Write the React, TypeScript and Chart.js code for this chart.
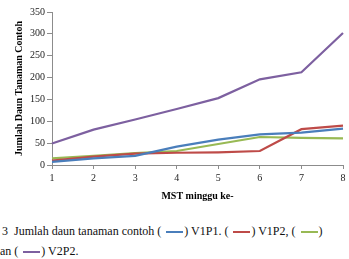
import { useEffect, useRef } from 'react';
import { Chart, registerables } from 'chart.js';

Chart.register(...registerables);

// Minggu setelah tanam (MST)
const weeks = ['1', '2', '3', '4', '5', '6', '7', '8'];

// Jumlah daun tanaman contoh per perlakuan
const v1p1 = [7, 15, 21, 42, 58, 70, 74, 83];
const v1p2 = [10, 19, 26, 28, 29, 32, 82, 90];
const v2p1 = [15, 21, 27, 32, 48, 64, 62, 61];
const v2p2 = [49, 81, 104, 128, 153, 196, 212, 302];

const BLUE = '#4a7ebb';
const RED = '#be4b48';
const GREEN = '#98b954';
const PURPLE = '#7d60a0';

const SERIF = '"Liberation Serif", "Times New Roman", serif';
const AXIS = '#8c8c8c';

function Swatch({ color }: { color: string }) {
  return (
    <span
      style={{
        display: 'inline-block',
        width: 17,
        height: 2,
        background: color,
        verticalAlign: 'middle',
        margin: '0 1px 0 5px',
      }}
    />
  );
}

export default function App() {
  const ref = useRef<HTMLCanvasElement>(null);

  useEffect(() => {
    const tickFont = { family: SERIF, size: 10 };
    const titleFont = { family: SERIF, size: 10, weight: 'bold' as const };
    const chart = new Chart(ref.current!, {
      type: 'line',
      data: {
        labels: weeks,
        datasets: [
          { label: 'V1P1', data: v1p1, borderColor: BLUE, backgroundColor: BLUE },
          { label: 'V1P2', data: v1p2, borderColor: RED, backgroundColor: RED },
          { label: 'V2P1', data: v2p1, borderColor: GREEN, backgroundColor: GREEN },
          { label: 'V2P2', data: v2p2, borderColor: PURPLE, backgroundColor: PURPLE },
        ],
      },
      options: {
        responsive: false,
        animation: false,
        layout: { padding: { top: 12, right: 6, left: 0, bottom: 0 } },
        plugins: { legend: { display: false }, tooltip: { enabled: false } },
        elements: {
          point: { radius: 0 },
          line: { borderWidth: 2.2, tension: 0 },
        },
        scales: {
          x: {
            offset: false,
            grid: { display: true, drawOnChartArea: false, drawTicks: true, tickLength: 4, color: AXIS },
            border: { color: AXIS },
            ticks: { color: '#222', font: tickFont, padding: 3, maxRotation: 0 },
            title: {
              display: true,
              text: 'MST minggu ke-',
              color: '#000',
              font: titleFont,
              padding: { top: 4, bottom: 3 },
            },
            afterFit: (s: any) => {
              s.height = 40;
            },
          },
          y: {
            min: 0,
            max: 350,
            grid: { display: true, drawOnChartArea: false, drawTicks: true, tickLength: 5, color: AXIS },
            border: { color: AXIS },
            ticks: { stepSize: 50, color: '#222', font: tickFont, padding: 2 },
            title: {
              display: true,
              text: 'Jumlah Daun Tanaman Contoh',
              color: '#000',
              font: titleFont,
              padding: { top: 13, bottom: 2 },
            },
            afterFit: (s: any) => {
              s.width = 52;
            },
          },
        },
      },
    });
    return () => chart.destroy();
  }, []);

  return (
    <div
      style={{
        position: 'absolute',
        left: 0,
        top: 0,
        width: 349,
        height: 259,
        background: '#fff',
        overflow: 'hidden',
      }}
    >
      <canvas ref={ref} width={349} height={205} style={{ display: 'block' }} />
      <div
        style={{
          position: 'absolute',
          left: 2,
          top: 221,
          fontFamily: SERIF,
          fontSize: 12,
          lineHeight: '20px',
          color: '#111',
          whiteSpace: 'nowrap',
        }}
      >
        <div>
          3&nbsp;&nbsp;Jumlah daun tanaman contoh (<Swatch color={BLUE} />) V1P1. (<Swatch color={RED} />) V1P2, (
          <Swatch color={GREEN} />)
        </div>
        <div style={{ marginLeft: -2 }}>
          an (<Swatch color={PURPLE} />) V2P2.
        </div>
      </div>
    </div>
  );
}
